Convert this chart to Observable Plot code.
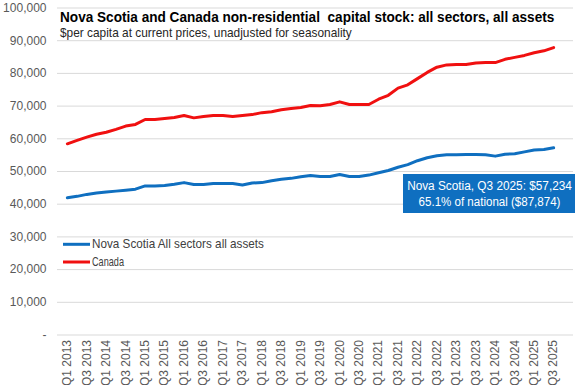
<!DOCTYPE html>
<html>
<head>
<meta charset="utf-8">
<script src="https://cdn.jsdelivr.net/npm/d3@7"></script>
<script src="https://cdn.jsdelivr.net/npm/@observablehq/plot@0.6"></script>
<style>
  html, body { margin: 0; padding: 0; background: #fff; }
  #chart { position: relative; width: 576px; height: 385px; }
  #chart svg { font-family: "Liberation Sans", Arial, sans-serif; }
</style>
</head>
<body>
<div id="chart"></div>
<script>
const quarters = [
  "Q1 2013","Q2 2013","Q3 2013","Q4 2013",
  "Q1 2014","Q2 2014","Q3 2014","Q4 2014",
  "Q1 2015","Q2 2015","Q3 2015","Q4 2015",
  "Q1 2016","Q2 2016","Q3 2016","Q4 2016",
  "Q1 2017","Q2 2017","Q3 2017","Q4 2017",
  "Q1 2018","Q2 2018","Q3 2018","Q4 2018",
  "Q1 2019","Q2 2019","Q3 2019","Q4 2019",
  "Q1 2020","Q2 2020","Q3 2020","Q4 2020",
  "Q1 2021","Q2 2021","Q3 2021","Q4 2021",
  "Q1 2022","Q2 2022","Q3 2022","Q4 2022",
  "Q1 2023","Q2 2023","Q3 2023","Q4 2023",
  "Q1 2024","Q2 2024","Q3 2024","Q4 2024",
  "Q1 2025","Q2 2025","Q3 2025"
];
const novaScotia = [
  41960, 42400, 43000, 43400, 43700, 44000, 44300, 44600,
  45600, 45600, 45700, 46100, 46600, 46000, 46000, 46300,
  46300, 46300, 45900, 46500, 46600, 47200, 47600, 47900,
  48400, 48750, 48500, 48500, 49100, 48500, 48500, 48900,
  49600, 50300, 51300, 52100, 53300, 54200, 54800, 55100,
  55100, 55200, 55200, 55100, 54700, 55300, 55400, 56000,
  56600, 56700, 57234
];
const canada = [
  58470, 59500, 60500, 61400, 62000, 62900, 63900, 64400,
  65900, 65900, 66200, 66500, 67100, 66400, 66800, 67100,
  67100, 66800, 67100, 67400, 68000, 68300, 68900, 69300,
  69600, 70200, 70100, 70500, 71300, 70500, 70500, 70500,
  72100, 73300, 75500, 76500, 78400, 80300, 81900, 82600,
  82700, 82700, 83200, 83300, 83300, 84300, 84900, 85500,
  86300, 86900, 87874
];
const xTickLabels = quarters.filter((q, i) => i % 2 === 0);
const yTickValues = [0, 10000, 20000, 30000, 40000, 50000, 60000, 70000, 80000, 90000, 100000];
const seriesNames = ["Nova Scotia All sectors all assets", "Canada"];
const seriesColors = ["#0F6FC0", "#F01010"];
const titleText = "Nova Scotia and Canada non-residential  capital stock: all sectors, all assets";
const subtitleText = "$per capita at current prices, unadjusted for seasonality";
const noteLines = ["Nova Scotia, Q3 2025: $57,234", "65.1% of national ($87,874)"];

const data = quarters.map((q, i) => ({q, ns: novaScotia[i], ca: canada[i]}));

const W = 576, H = 385;
const chart = Plot.plot({
  width: W, height: H,
  marginLeft: 57, marginRight: 3, marginTop: 7.5, marginBottom: 50.5,
  x: {type: "point", domain: quarters, range: [62, 558], axis: null, label: null},
  y: {domain: [0, 100000], axis: null, label: null},
  marks: [
    Plot.gridY(yTickValues, {stroke: "#d9d9d9", strokeOpacity: 1, strokeWidth: 1}),
    Plot.axisY(yTickValues, {
      tickSize: 0, tickPadding: 11, fontSize: 12, fill: "#595959", label: null,
      tickFormat: d => d === 0 ? "-" : d3.format(",")(d)
    }),
    Plot.axisX(xTickLabels, {
      tickSize: 0, tickPadding: 5, tickRotate: -90, fontSize: 12, fill: "#595959", label: null
    }),
    Plot.line(data, {x: "q", y: "ca", stroke: seriesColors[1], strokeWidth: 3, curve: "linear"}),
    Plot.line(data, {x: "q", y: "ns", stroke: seriesColors[0], strokeWidth: 3, curve: "linear"})
  ]
});
document.getElementById("chart").appendChild(chart);

const svg = d3.select(chart);
const narrow = '"Liberation Sans Narrow", "Arial Narrow", "Liberation Sans", Arial, sans-serif';

// Adds a text horizontally condensed to a target width (like a narrow font)
function addText(x, y, str, size, weight, fill, target, anchor) {
  const t = svg.append("text")
    .attr("x", 0).attr("y", 0)
    .attr("text-anchor", anchor || "start")
    .attr("font-family", narrow).attr("font-size", size).attr("font-weight", weight)
    .attr("fill", fill)
    .style("white-space", "pre")
    .text(str);
  const natural = t.node().getComputedTextLength();
  const s = Math.min(1, target / natural);
  t.attr("transform", `translate(${x},${y}) scale(${s},1)`);
  return t;
}

// Title and subtitle
addText(60, 22.3, titleText, 14.5, "bold", "#000", 495);
addText(60, 37.3, subtitleText, 12.5, "normal", "#262626", 292);

// Legend
const legendY = [244.3, 262];
const legendLen = [172, 32];
seriesNames.forEach((name, i) => {
  svg.append("line").attr("x1", 63).attr("x2", 90).attr("y1", legendY[i]).attr("y2", legendY[i])
    .attr("stroke", seriesColors[i]).attr("stroke-width", 3);
  addText(92, legendY[i] + 4, name, 12, "normal", "#404040", legendLen[i]);
});

// Annotation box
svg.append("rect").attr("x", 403).attr("y", 174).attr("width", 172).attr("height", 39)
  .attr("fill", "#0F6FC0");
const noteBase = [190, 205.7];
const noteLen = [165, 142];
noteLines.forEach((t, i) => {
  addText(489.5, noteBase[i], t, 13.5, "normal", "#fff", noteLen[i], "middle");
});
</script>
</body>
</html>
